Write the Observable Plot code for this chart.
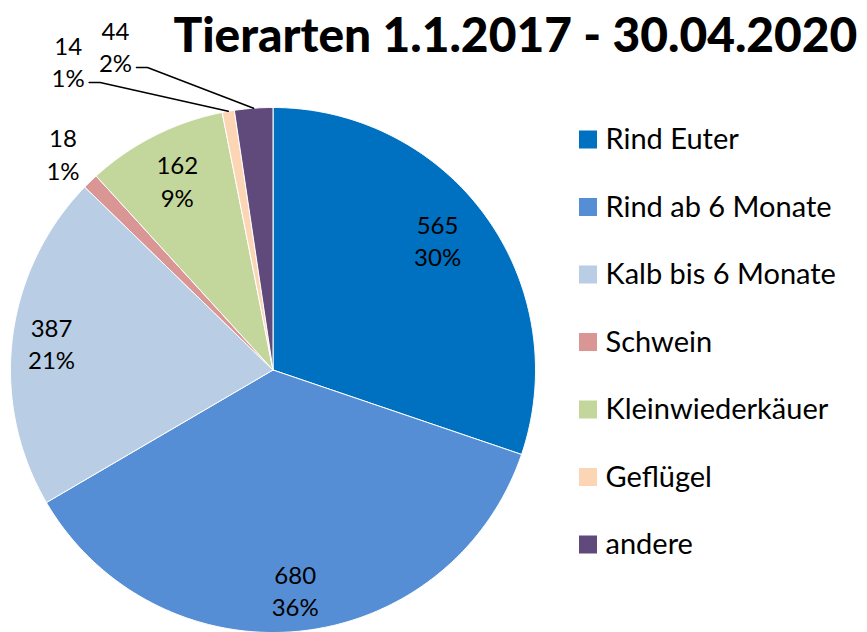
<!DOCTYPE html>
<html>
<head>
<meta charset="utf-8">
<script src="https://cdn.jsdelivr.net/npm/d3@7"></script>
<script src="https://cdn.jsdelivr.net/npm/@observablehq/plot@0.6"></script>
<style>
  html, body { margin: 0; padding: 0; background: #ffffff; }
  #chart { width: 867px; height: 632px; overflow: hidden; }
</style>
</head>
<body>
<div id="chart"></div>
<script>
// ---- data ----
const categories = ["Rind Euter", "Rind ab 6 Monate", "Kalb bis 6 Monate", "Schwein", "Kleinwiederkäuer", "Geflügel", "andere"];
const values = [565, 680, 387, 18, 162, 14, 44];
const percentLabels = ["30%", "36%", "21%", "1%", "9%", "1%", "2%"];
const colors = ["#0070C0", "#558ED5", "#B9CDE5", "#D99694", "#C3D69B", "#FCD5B5", "#604A7B"];
const title = "Tierarten 1.1.2017 - 30.04.2020";

// ---- layout ----
const W = 867, H = 632;
const pie = {cx: 272.5, cy: 369.5, r: 262.5};
// label placement: radius factor k, optional angle override (deg), optional leader line
const labelPlacement = [
  {k: 0.80, angle: 51.6},
  {k: 0.84},
  {k: 0.85},
  {k: 1.15},
  {k: 0.81},
  {k: 1.414, angle: 326.5, leader: true},
  {k: 1.374, angle: 334.1, leader: true}
];
const legend = {x: 579, box: 18, textX: 605, y0: 139.5, step: 67.5, fontSize: 29};
const font = "Lato, 'Open Sans', sans-serif";
const titleBox = {x: 173, width: 684, baseline: 51, weight: 900, maxSize: 52};

// measure the title to fit its reference width
function measure(text, size, weight) {
  const svg = d3.select("body").append("svg").attr("width", 10).attr("height", 10);
  const t = svg.append("text").attr("font-family", font).attr("font-size", size).attr("font-weight", weight).text(text);
  const w = t.node().getComputedTextLength();
  svg.remove();
  return w;
}
const titleSize = Math.min(titleBox.maxSize, 40 * titleBox.width / measure(title, 40, titleBox.weight));

// ---- geometry ----
const arcs = d3.pie().sort(null).value(d => d)(values);
const polar = (angleRad, rad) => ({x: pie.cx + rad * Math.sin(angleRad), y: pie.cy - rad * Math.cos(angleRad)});

const slicePoints = [];
arcs.forEach((a, i) => {
  const name = categories[i];
  slicePoints.push({name, ...polar(0, 0)});
  const n = Math.max(2, Math.ceil((a.endAngle - a.startAngle) / (Math.PI / 360)));
  for (let j = 0; j <= n; j++) {
    const t = a.startAngle + (a.endAngle - a.startAngle) * j / n;
    slicePoints.push({name, ...polar(t, pie.r)});
  }
  slicePoints.push({name, ...polar(0, 0)});
});

const labels = arcs.map((a, i) => {
  const p = labelPlacement[i];
  const mid = (a.startAngle + a.endAngle) / 2;
  const ang = p.angle != null ? p.angle * Math.PI / 180 : mid;
  const pos = polar(ang, p.k * pie.r);
  return {name: categories[i], text: values[i] + "\n" + percentLabels[i], x: pos.x, y: pos.y, mid, leader: !!p.leader};
});

const leaderPoints = [];
labels.filter(l => l.leader).forEach(l => {
  const s = polar(l.mid, pie.r);
  leaderPoints.push({name: l.name, x: s.x, y: s.y});
  leaderPoints.push({name: l.name, x: l.x + 32, y: l.y + 22});
  leaderPoints.push({name: l.name, x: l.x + 21, y: l.y + 22});
});

const legendRows = categories.map((c, i) => ({name: c, yc: legend.y0 + i * legend.step}));

const chart = Plot.plot({
  width: W,
  height: H,
  margin: 0,
  x: {domain: [0, W], range: [0, W], axis: null},
  y: {domain: [0, H], range: [0, H], axis: null},
  color: {domain: categories, range: colors},
  style: {background: "#ffffff", fontFamily: font},
  marks: [
    Plot.line(slicePoints, {x: "x", y: "y", z: "name", fill: "name", stroke: "#ffffff", strokeWidth: 1, curve: "linear"}),
    Plot.line(leaderPoints, {x: "x", y: "y", z: "name", stroke: "#000000", strokeWidth: 1.5, curve: "linear"}),
    Plot.text(labels, {x: "x", y: "y", text: "text", fill: "#000000", fontSize: 24, lineHeight: 1.34, fontFamily: font, textAnchor: "middle"}),
    Plot.rect(legendRows, {x1: () => legend.x, x2: () => legend.x + legend.box, y1: d => d.yc - legend.box / 2, y2: d => d.yc + legend.box / 2, fill: "name"}),
    Plot.text(legendRows, {x: () => legend.textX, y: "yc", text: "name", textAnchor: "start", fill: "#000000", fontSize: legend.fontSize, fontFamily: font}),
    Plot.text([title], {x: () => titleBox.x, y: () => titleBox.baseline - 0.32 * titleSize, text: d => d, textAnchor: "start", fill: "#000000", fontSize: titleSize, fontWeight: titleBox.weight, fontFamily: font})
  ]
});
document.getElementById("chart").appendChild(chart);
</script>
</body>
</html>
